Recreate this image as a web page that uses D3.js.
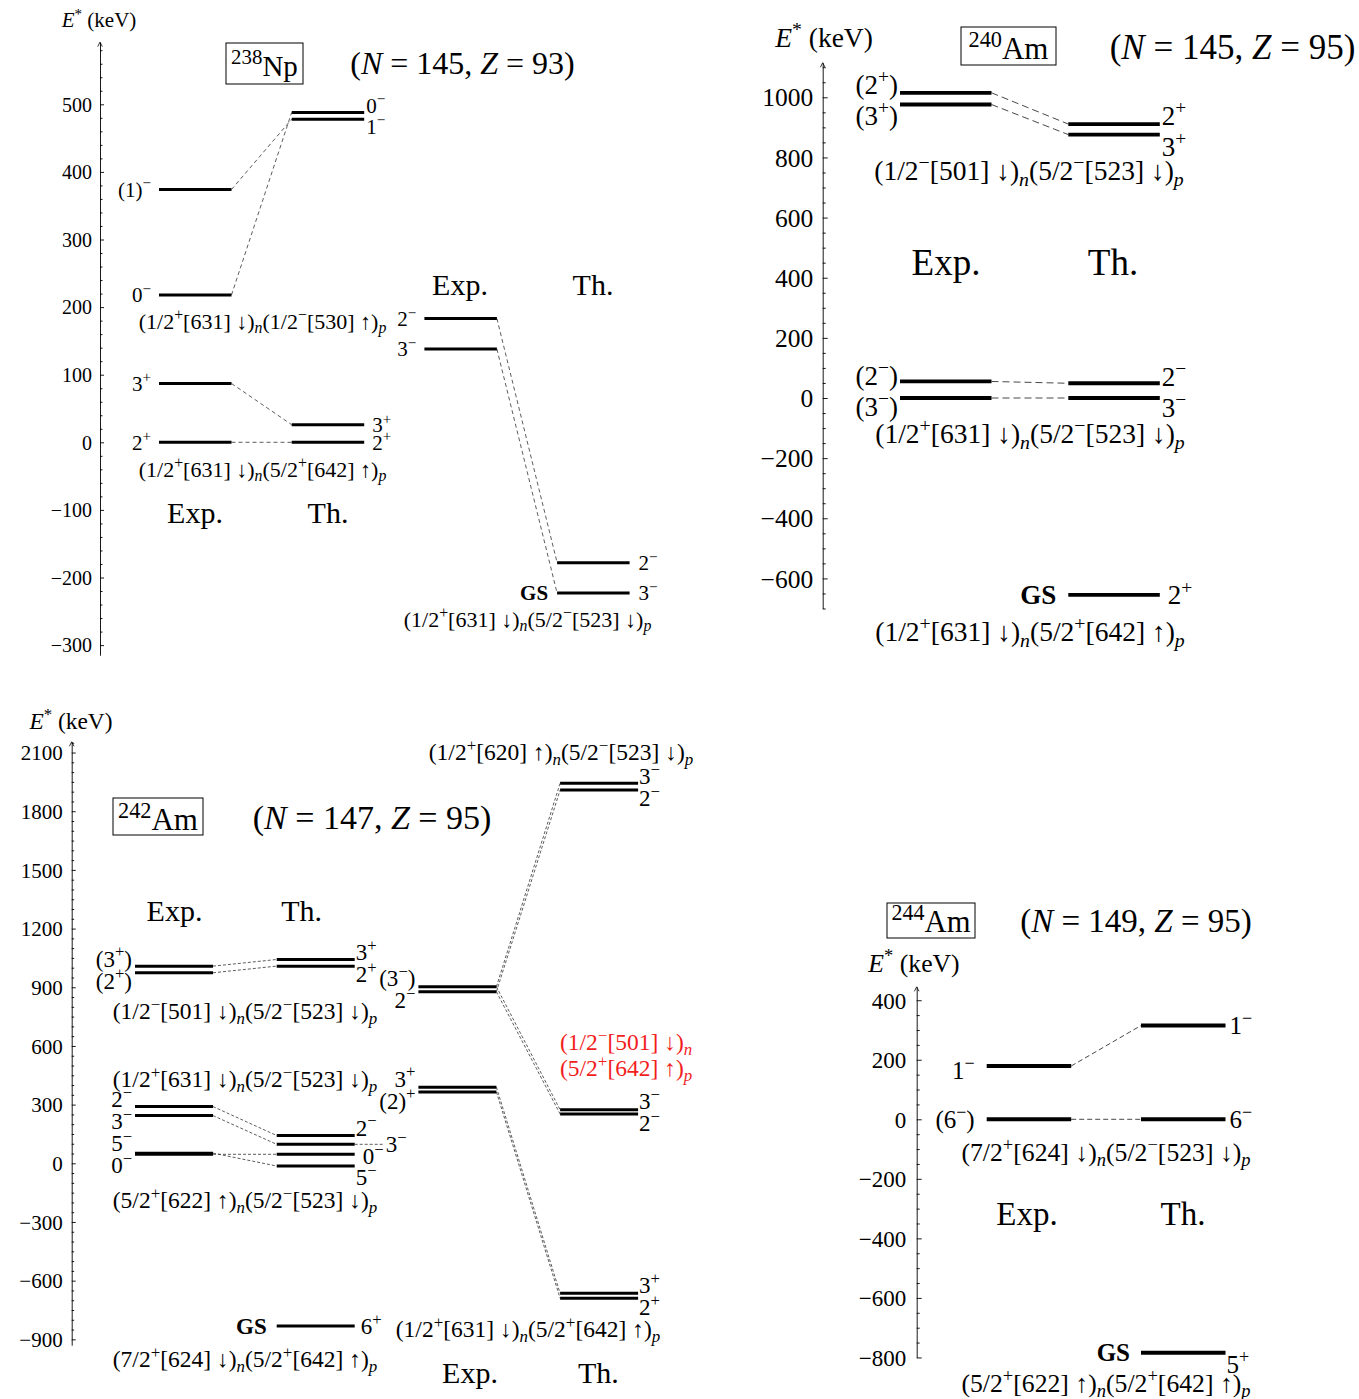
<!DOCTYPE html>
<html>
<head>
<meta charset="utf-8">
<script src="https://cdn.jsdelivr.net/npm/d3@7"></script>
<style>
  body { margin: 0; background: #fff; }
  svg { display: block; }
  text { font-family: "Liberation Serif", "DejaVu Serif", serif; fill: #000; white-space: pre; }
</style>
</head>
<body>
<script>
// ---------------------------------------------------------------
// Level data (keV). Markup: ^x superscript, _x italic subscript,
// $..$ italic, {..} groups several characters.
// ---------------------------------------------------------------
const axisTitle = "$E$^* (keV)";
const headings = ["Exp.", "Th."];

// 238Np  (N = 145, Z = 93)
const np238Name = "^{238}Np";
const np238NZ = "($N$ = 145, $Z$ = 93)";
const np238Ticks = [-300, -200, -100, 0, 100, 200, 300, 400, 500];
const np238ExpA = [
  { id: "x1", E: 374, J: "(1)^−" },
  { id: "x2", E: 218, J: "0^−" },
  { id: "x3", E: 87,  J: "3^+" },
  { id: "x4", E: 0,   J: "2^+" }
];
const np238ThA = [
  { id: "t1", E: 488, J: "0^−" },
  { id: "t2", E: 478, J: "1^−" },
  { id: "t3", E: 26,  J: "3^+" },
  { id: "t4", E: 0,   J: "2^+" }
];
const np238ExpB = [
  { id: "x5", E: 183, J: "2^−" },
  { id: "x6", E: 138, J: "3^−" }
];
const np238ThB = [
  { id: "t5", E: -178, J: "2^−" },
  { id: "t6", E: -223, J: "3^−", gs: true }
];
const np238Links = [["x1", "t2"], ["x2", "t1"], ["x3", "t3"], ["x4", "t4"], ["x5", "t5"], ["x6", "t6"]];
const np238Configs = [
  "(1/2^+[631] ↓)_n(1/2^−[530] ↑)_p",
  "(1/2^+[631] ↓)_n(5/2^+[642] ↑)_p",
  "(1/2^+[631] ↓)_n(5/2^−[523] ↓)_p"
];

// 240Am  (N = 145, Z = 95)
const am240Name = "^{240}Am";
const am240NZ = "($N$ = 145, $Z$ = 95)";
const am240Ticks = [-600, -400, -200, 0, 200, 400, 600, 800, 1000];
const am240Exp = [
  { id: "x1", E: 1015, J: "(2^+)" },
  { id: "x2", E: 976,  J: "(3^+)" },
  { id: "x3", E: 55,   J: "(2^−)" },
  { id: "x4", E: 0,    J: "(3^−)" }
];
const am240Th = [
  { id: "t1", E: 911,  J: "2^+" },
  { id: "t2", E: 876,  J: "3^+" },
  { id: "t3", E: 49,   J: "2^−" },
  { id: "t4", E: 0,    J: "3^−" },
  { id: "t5", E: -655, J: "2^+", gs: true }
];
const am240Links = [["x1", "t1"], ["x2", "t2"], ["x3", "t3"], ["x4", "t4"]];
const am240Configs = [
  "(1/2^−[501] ↓)_n(5/2^−[523] ↓)_p",
  "(1/2^+[631] ↓)_n(5/2^−[523] ↓)_p",
  "(1/2^+[631] ↓)_n(5/2^+[642] ↑)_p"
];

// 242Am  (N = 147, Z = 95)
const am242Name = "^{242}Am";
const am242NZ = "($N$ = 147, $Z$ = 95)";
const am242Ticks = [-900, -600, -300, 0, 300, 600, 900, 1200, 1500, 1800, 2100];
const am242ExpA = [
  { id: "x1", E: 1008, J: "(3^+)" },
  { id: "x2", E: 974,  J: "(2^+)" },
  { id: "x3", E: 290,  J: "2^−" },
  { id: "x4", E: 244,  J: "3^−" },
  { id: "x5", E: 52,   J: "5^−" },
  { id: "x6", E: 46,   J: "0^−" }
];
const am242ThA = [
  { id: "t1", E: 1042, J: "3^+" },
  { id: "t2", E: 1008, J: "2^+" },
  { id: "t3", E: 142,  J: "2^−" },
  { id: "t4", E: 97,   J: "3^−" },
  { id: "t5", E: 46,   J: "0^−" },
  { id: "t6", E: -14,  J: "5^−" },
  { id: "t7", E: -832, J: "6^+", gs: true }
];
const am242ExpB = [
  { id: "x7",  E: 903, J: "(3^−)" },
  { id: "x8",  E: 877, J: "2^−" },
  { id: "x9",  E: 389, J: "3^+" },
  { id: "x10", E: 365, J: "(2)^+" }
];
const am242ThB = [
  { id: "t8",  E: 1943, J: "3^−" },
  { id: "t9",  E: 1908, J: "2^−" },
  { id: "t10", E: 274,  J: "3^−" },
  { id: "t11", E: 252,  J: "2^−" },
  { id: "t12", E: -665, J: "3^+" },
  { id: "t13", E: -690, J: "2^+" }
];
const am242Links = [
  ["x1", "t1"], ["x2", "t2"], ["x3", "t3"], ["x4", "t4"], ["x5", "t6"], ["x6", "t5"],
  ["x7", "t8"], ["x8", "t9"], ["x7", "t10"], ["x8", "t11"], ["x9", "t12"], ["x10", "t13"]
];
const am242Configs = [
  "(1/2^−[501] ↓)_n(5/2^−[523] ↓)_p",
  "(1/2^+[631] ↓)_n(5/2^−[523] ↓)_p",
  "(5/2^+[622] ↑)_n(5/2^−[523] ↓)_p",
  "(7/2^+[624] ↓)_n(5/2^+[642] ↑)_p",
  "(1/2^+[620] ↑)_n(5/2^−[523] ↓)_p",
  "(1/2^+[631] ↓)_n(5/2^+[642] ↑)_p"
];
const am242Predicted = ["(1/2^−[501] ↓)_n", "(5/2^+[642] ↑)_p"];

// 244Am  (N = 149, Z = 95)
const am244Name = "^{244}Am";
const am244NZ = "($N$ = 149, $Z$ = 95)";
const am244Ticks = [-800, -600, -400, -200, 0, 200, 400];
const am244Exp = [
  { id: "x1", E: 179, J: "1^−" },
  { id: "x2", E: 0,   J: "(6^−)" }
];
const am244Th = [
  { id: "t1", E: 315,  J: "1^−" },
  { id: "t2", E: 0,    J: "6^−" },
  { id: "t3", E: -784, J: "5^+", gs: true }
];
const am244Links = [["x1", "t1"], ["x2", "t2"]];
const am244Configs = [
  "(7/2^+[624] ↓)_n(5/2^−[523] ↓)_p",
  "(5/2^+[622] ↑)_n(5/2^+[642] ↑)_p"
];

// ---------------------------------------------------------------
const svg = d3.select("body").append("svg").attr("width", 1359).attr("height", 1399);

// Rich text: builds tspans for super/subscripts and italics.
function rich(sel, str, fs) {
  const re = /\^\{([^}]*)\}|\^(.)|_\{([^}]*)\}|_(.)|\$([^$]+)\$|([^^_$]+)/g;
  let m, shift = 0;
  while ((m = re.exec(str)) !== null) {
    let t, kind;
    if (m[1] !== undefined || m[2] !== undefined) { t = m[1] ?? m[2]; kind = "sup"; }
    else if (m[3] !== undefined || m[4] !== undefined) { t = m[3] ?? m[4]; kind = "sub"; }
    else if (m[5] !== undefined) { t = m[5]; kind = "it"; }
    else { t = m[6]; kind = "rm"; }
    const off = kind === "sup" ? -0.4 * fs : kind === "sub" ? 0.2 * fs : 0;
    const ts = sel.append("tspan").text(t);
    if (off !== shift) ts.attr("dy", off - shift);
    shift = off;
    if (kind === "sup" || kind === "sub") ts.attr("font-size", 0.72 * fs);
    if (kind === "sub" || kind === "it") ts.attr("font-style", "italic");
  }
  return sel;
}

function put(g, str, x, y, fs, anchor = "middle", fill = null, weight = null) {
  const t = g.append("text").attr("x", x).attr("y", y)
    .attr("font-size", fs).attr("text-anchor", anchor);
  if (fill) t.style("fill", fill);
  if (weight) t.attr("font-weight", weight);
  return rich(t, str, fs);
}

// Pushes apart label positions that are closer than `gap`.
function spread(ys, gap) {
  let cl = ys.map(v => ({ ys: [v], c: v }));
  const start = c => c.c - (c.ys.length - 1) * gap / 2;
  let merged = true;
  while (merged) {
    merged = false;
    for (let i = 0; i < cl.length - 1; i++) {
      const a = cl[i], b = cl[i + 1];
      if (start(b) - (start(a) + (a.ys.length - 1) * gap) < gap) {
        const all = a.ys.concat(b.ys);
        cl.splice(i, 2, { ys: all, c: d3.mean(all) });
        merged = true;
        break;
      }
    }
  }
  const out = [];
  cl.forEach(c => c.ys.forEach((v, j) => out.push(start(c) + j * gap)));
  return out;
}

function drawPanel(P) {
  const g = svg.append("g");
  const y = d3.scaleLinear().domain(P.extent).range(P.extent.map(e => P.y0 - e * P.k));

  // energy axis: ticks point inward, minor ticks between labelled ones
  const ax = g.append("g").attr("transform", `translate(${P.axisX},0)`);
  const minor = d3.range(Math.ceil(P.extent[0] / P.minorStep) * P.minorStep, P.extent[1] + 1e-6, P.minorStep)
    .filter(v => !P.ticks.includes(v));
  ax.append("g")
    .call(d3.axisLeft(y).tickValues(minor).tickSize(-P.minorLen).tickSizeOuter(0).tickFormat(""))
    .call(s => s.select(".domain").remove());
  ax.append("g")
    .call(d3.axisLeft(y).tickValues(P.ticks).tickSize(-P.tickLen).tickSizeOuter(0)
      .tickPadding(P.tickPad).tickFormat(d3.format("d")))
    .attr("font-size", P.tickFs);
  ax.selectAll("line, path").attr("stroke", "#000").attr("stroke-width", 0.9);
  ax.selectAll(".tick text").attr("dy", "0.34em");
  const top = y(P.extent[1]);
  ax.append("path").attr("d", `M-2.3,${top + 4.5}L0,${top}L2.3,${top + 4.5}`)
    .attr("fill", "none").attr("stroke", "#000").attr("stroke-width", 0.8);
  put(g, axisTitle, P.eLabel[0], P.eLabel[1], P.eLabel[2]);

  // column positions
  const xc = d3.scaleLinear().domain([0, P.cols.length - 1])
    .range([P.colX0, P.colX0 + (P.cols.length - 1) * P.colStep]);
  const pos = {};
  P.cols.forEach((lev, ci) => lev.forEach(d => {
    pos[d.id] = { x1: xc(ci), x2: xc(ci) + P.colW, y: y(d.E) };
  }));

  // dashed correspondences
  g.selectAll(null).data(P.links).join("line")
    .attr("x1", d => pos[d[0]].x2).attr("y1", d => pos[d[0]].y)
    .attr("x2", d => pos[d[1]].x1).attr("y2", d => pos[d[1]].y)
    .attr("stroke", "#333").attr("stroke-width", P.dashW).attr("stroke-dasharray", P.dash);

  const tw = P.tweak || {};
  P.cols.forEach((lev, ci) => {
    const x1 = xc(ci), x2 = x1 + P.colW;
    g.selectAll(null).data(lev).join("line")
      .attr("x1", x1).attr("x2", x2)
      .attr("y1", d => y(d.E)).attr("y2", d => y(d.E))
      .attr("stroke", "#000").attr("stroke-width", P.lw);

    const left = ci % 2 === 0;
    const free = lev.filter(d => !d.gs && !(tw[d.id] && tw[d.id].fixed))
      .sort((a, b) => y(a.E) - y(b.E));
    const ly = new Map();
    spread(free.map(d => y(d.E)), P.gap).forEach((v, i) => ly.set(free[i].id, v));

    lev.forEach(d => {
      const t = tw[d.id] || {};
      const base = ly.has(d.id) ? ly.get(d.id) + (P.bias || 0) : y(d.E);
      const cy = base + (t.dy || 0);
      const by = cy + 0.35 * P.labFs;
      if (d.gs) {
        put(g, "GS", x1 - P.gsGap, y(d.E) + 0.35 * P.labFs, P.labFs, "end", null, "bold");
        put(g, d.J, x2 + P.gsSpin + (t.dx || 0), by, P.labFs, "start");
      } else if (left) {
        put(g, d.J, x1 - P.leftGap - (t.dx || 0), by, P.labFs, "end");
      } else {
        put(g, d.J, x2 + P.rightGap + (t.dx || 0), by, P.labFs, "start");
        if (t.leader) {
          g.append("line").attr("x1", x2).attr("x2", x2 + t.dx - 1)
            .attr("y1", y(d.E)).attr("y2", y(d.E))
            .attr("stroke", "#333").attr("stroke-width", P.dashW).attr("stroke-dasharray", P.dash);
        }
      }
    });
  });

  // nucleus box and (N, Z)
  const b = P.box;
  g.append("rect").attr("x", b[0]).attr("y", b[1]).attr("width", b[2] - b[0]).attr("height", b[3] - b[1])
    .attr("fill", "none").attr("stroke", "#000").attr("stroke-width", 1);
  put(g, P.name, (b[0] + b[2]) / 2, b[4], b[5]);
  put(g, P.nz[0], P.nz[1], P.nz[2], P.nz[3]);

  (P.texts || []).forEach(t => put(g, t[0], t[1], t[2], t[3], t[4] || "middle", t[5] || null));
}

// ---------------- 238Np ----------------
drawPanel({
  axisX: 100, y0: 442.3, k: 0.676, extent: [-315, 592], ticks: np238Ticks, minorStep: 20,
  tickLen: 4, minorLen: 2.5, tickPad: 8, tickFs: 20, eLabel: [99, 27, 21],
  cols: [np238ExpA, np238ThA, np238ExpB, np238ThB], links: np238Links,
  colX0: 159, colStep: 132.7, colW: 72.5, lw: 3, labFs: 21,
  leftGap: 8, rightGap: 2, gap: 21, gsGap: 9, gsSpin: 9, dash: "4,3", dashW: 0.8,
  tweak: { t3: { fixed: true, dx: 6 }, t4: { fixed: true, dx: 6 }, t5: { dx: 7 } },
  box: [226, 43, 303, 84, 76, 29], name: np238Name, nz: [np238NZ, 462.5, 74, 32],
  texts: [
    [np238Configs[0], 262.5, 329, 22], [np238Configs[1], 262.5, 477, 22], [np238Configs[2], 527.5, 627, 22],
    [headings[0], 195, 523, 30], [headings[1], 328, 523, 30],
    [headings[0], 460, 295, 30], [headings[1], 593, 295, 30]
  ]
});

// ---------------- 240Am ----------------
drawPanel({
  axisX: 822.7, y0: 398, k: 0.3007, extent: [-700, 1115], ticks: am240Ticks, minorStep: 50,
  tickLen: 5, minorLen: 3, tickPad: 9.5, tickFs: 25.5, eLabel: [824, 47, 27.5],
  cols: [am240Exp, am240Th], links: am240Links,
  colX0: 900, colStep: 168.3, colW: 91.5, lw: 3.8, labFs: 27,
  leftGap: 2, rightGap: 2, gap: 31, bias: 1.5, gsGap: 12, gsSpin: 8, dash: "7,4", dashW: 0.9,
  box: [961, 27, 1056, 65, 59, 31], name: am240Name, nz: [am240NZ, 1232.5, 59, 35],
  texts: [
    [am240Configs[0], 1029, 180, 27.5], [am240Configs[1], 1030, 443, 27.5], [am240Configs[2], 1030, 641, 27.5],
    [headings[0], 946, 275, 37], [headings[1], 1113, 275, 37]
  ]
});

// ---------------- 242Am ----------------
drawPanel({
  axisX: 71.7, y0: 1163.3, k: 0.1956, extent: [-930, 2155], ticks: am242Ticks, minorStep: 50,
  tickLen: 4, minorLen: 2.5, tickPad: 9, tickFs: 21, eLabel: [71, 729, 23.4],
  cols: [am242ExpA, am242ThA, am242ExpB, am242ThB], links: am242Links,
  colX0: 135, colStep: 141.7, colW: 78, lw: 3, labFs: 23,
  leftGap: 3, rightGap: 1, gap: 22, gsGap: 10, gsSpin: 6, dash: "3,2", dashW: 0.8,
  tweak: {
    t3: { fixed: true, dy: -8 }, t4: { fixed: true, dx: 30, leader: true },
    t5: { fixed: true, dx: 7, dy: 2 }, t6: { fixed: true, dy: 11 }
  },
  box: [113, 798, 203, 835, 830, 31], name: am242Name, nz: [am242NZ, 372, 829, 34],
  texts: [
    [am242Configs[0], 245, 1019, 23.5], [am242Configs[1], 245, 1087, 23.5],
    [am242Configs[2], 245, 1208, 23.5], [am242Configs[3], 245, 1367, 23.5],
    [am242Configs[4], 561, 760, 23.5], [am242Configs[5], 528, 1337, 23.5],
    [am242Predicted[0], 560, 1050, 23.5, "start", "#f21d1d"],
    [am242Predicted[1], 560, 1076, 23.5, "start", "#f21d1d"],
    [headings[0], 174.5, 921, 30], [headings[1], 301.7, 921, 30],
    [headings[0], 470, 1383, 30], [headings[1], 598.3, 1383, 30]
  ]
});

// ---------------- 244Am ----------------
drawPanel({
  axisX: 916.7, y0: 1119.3, k: 0.2977, extent: [-800, 445], ticks: am244Ticks, minorStep: 50,
  tickLen: 5, minorLen: 3, tickPad: 10.5, tickFs: 23, eLabel: [914, 972, 25.7],
  cols: [am244Exp, am244Th], links: am244Links,
  colX0: 986.7, colStep: 154.3, colW: 84.5, lw: 4, labFs: 25,
  leftGap: 12, rightGap: 4, gap: 22, gsGap: 11, gsSpin: 1, dash: "5,3", dashW: 0.9,
  tweak: { x1: { fixed: true, dy: 4 }, t3: { dy: 12 } },
  box: [887, 903, 975, 938, 932, 30.6], name: am244Name, nz: [am244NZ, 1136, 932, 33],
  texts: [
    [am244Configs[0], 1106, 1161, 25.7], [am244Configs[1], 1106, 1392, 25.7],
    [headings[0], 1027, 1225, 33], [headings[1], 1183, 1225, 33]
  ]
});
</script>
</body>
</html>
